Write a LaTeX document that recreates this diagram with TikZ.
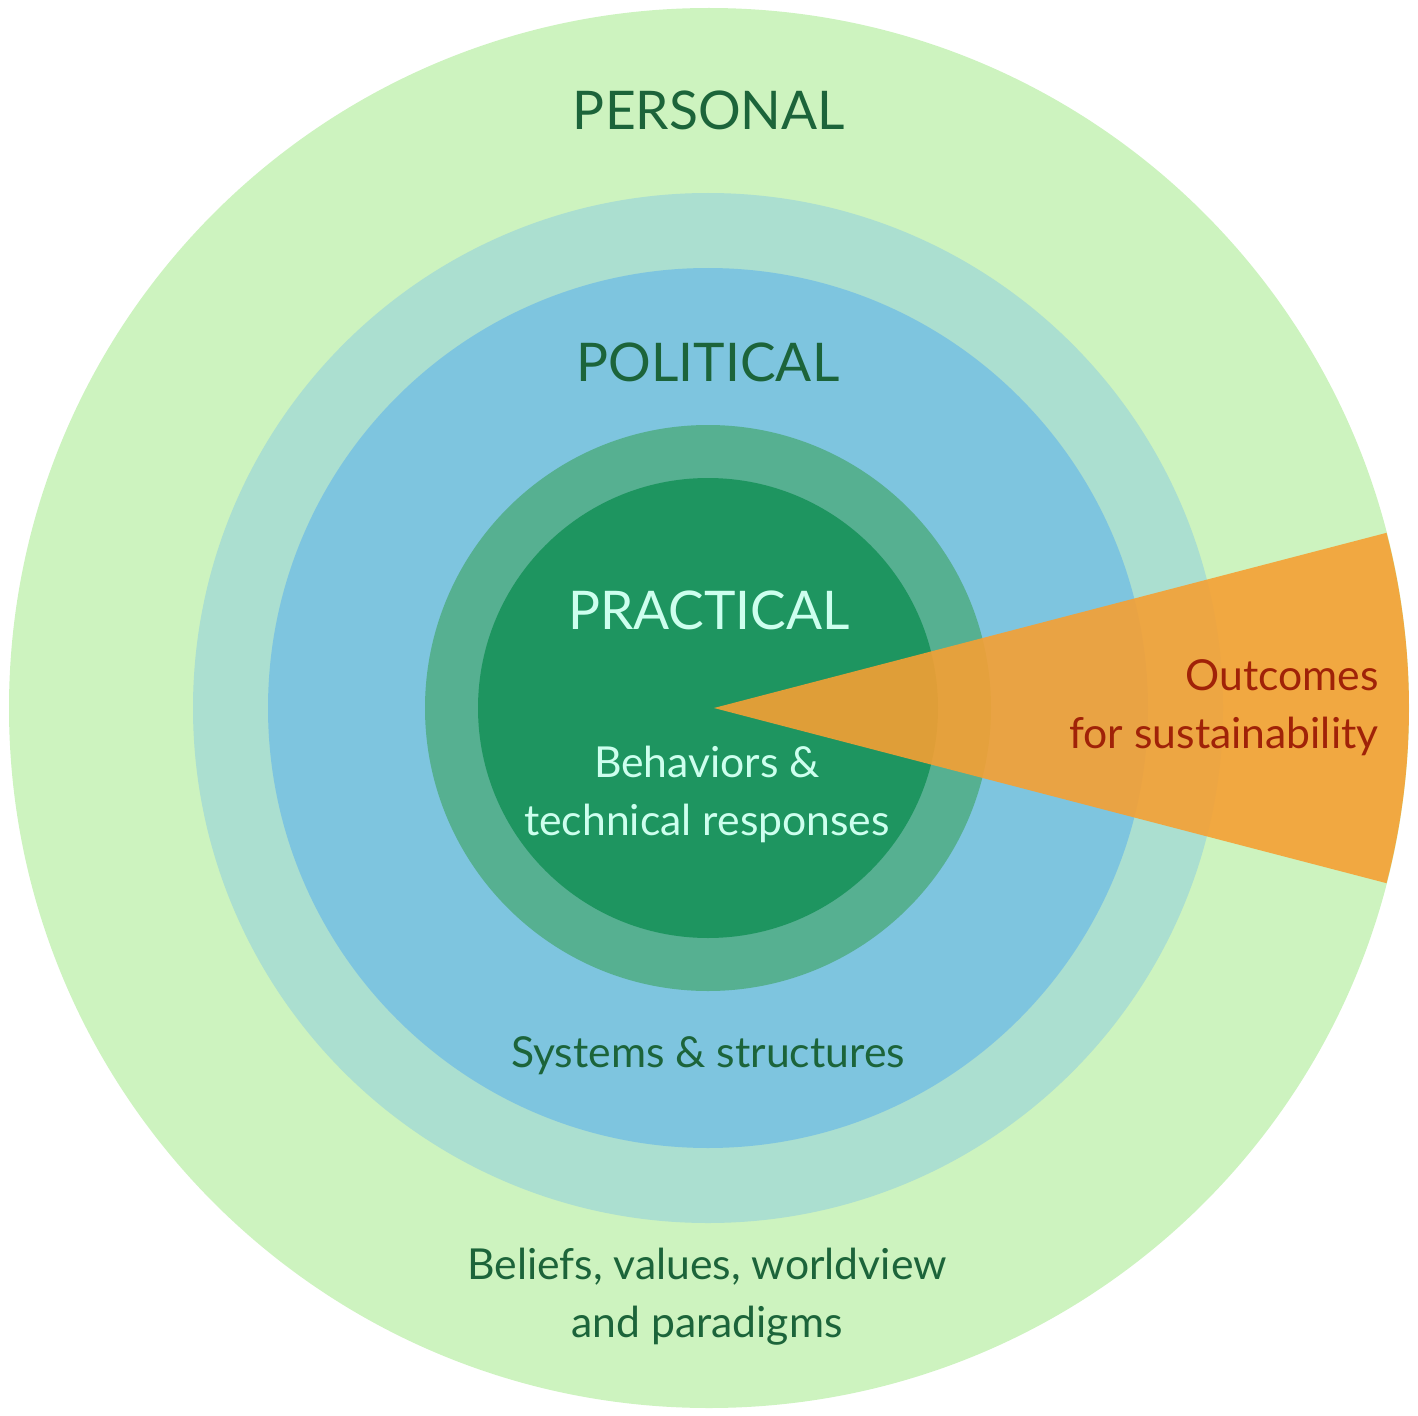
\documentclass[tikz,border=0pt]{standalone}
\usepackage{fontspec}
\setmainfont{Lato}

\definecolor{personalgreen}{RGB}{205,243,191}
\definecolor{politicalteal}{RGB}{171,223,208}
\definecolor{politicalblue}{RGB}{126,197,223}
\definecolor{practicalring}{RGB}{86,176,145}
\definecolor{practicalgreen}{RGB}{30,149,96}
\definecolor{outcomeorange}{RGB}{245,160,52}
\definecolor{darktext}{RGB}{28,100,58}
\definecolor{lighttext}{RGB}{205,255,238}
\definecolor{redtext}{RGB}{160,34,8}

\tikzset{every picture/.style={line width=0.75pt}}
\tikzset{
  bigtitle/.style={font=\fontsize{40}{48}\selectfont, inner sep=0pt},
  smalltext/.style={font=\fontsize{32}{43.5}\selectfont, inner sep=0pt, align=center},
}

\begin{document}
\begin{tikzpicture}[x=0.75pt,y=0.75pt,yscale=-1,xscale=1]
	\useasboundingbox (0,0) rectangle (1418,1416);

	%Shape: Circle [personal] 
	\draw  [draw opacity=0][fill=personalgreen ,fill opacity=1 ] (709,708) circle (700) ;
	%Shape: Circle [political outer] 
	\draw  [draw opacity=0][fill=politicalteal ,fill opacity=1 ] (708,708) circle (515) ;
	%Shape: Circle [political inner] 
	\draw  [draw opacity=0][fill=politicalblue ,fill opacity=1 ] (708,708) circle (440) ;
	%Shape: Circle [practical outer] 
	\draw  [draw opacity=0][fill=practicalring ,fill opacity=1 ] (708,708) circle (283) ;
	%Shape: Circle [practical inner] 
	\draw  [draw opacity=0][fill=practicalgreen ,fill opacity=1 ] (708,708) circle (230) ;
	%Shape: Wedge [outcomes] 
	\draw  [draw opacity=0][fill=outcomeorange ,fill opacity=0.9 ] (714,708) -- ++(14.6:695) arc [start angle=14.6, end angle=-14.6, radius=695] -- cycle ;

	% Text Node
	\node [bigtitle, text=darktext] (personal) at (709,110) {PERSONAL};
	% Text Node
	\node [bigtitle, text=darktext] (political) at (708,362) {POLITICAL};
	% Text Node
	\node [bigtitle, text=lighttext] (practical) at (709,610) {PRACTICAL};
	% Text Node
	\node [smalltext, text=lighttext] (behaviors) at (707,794) {Behaviors \&\\technical responses};
	% Text Node
	\node [smalltext, text=darktext] (systems) at (708,1056) {Systems \& structures};
	% Text Node
	\node [smalltext, text=darktext] (beliefs) at (707,1297) {Beliefs, values, worldview\\and paradigms};
	% Text Node
	\node [smalltext, text=redtext, align=right, anchor=east] (outcomes) at (1379,708) {Outcomes\\for sustainability};

\end{tikzpicture}
\end{document}
